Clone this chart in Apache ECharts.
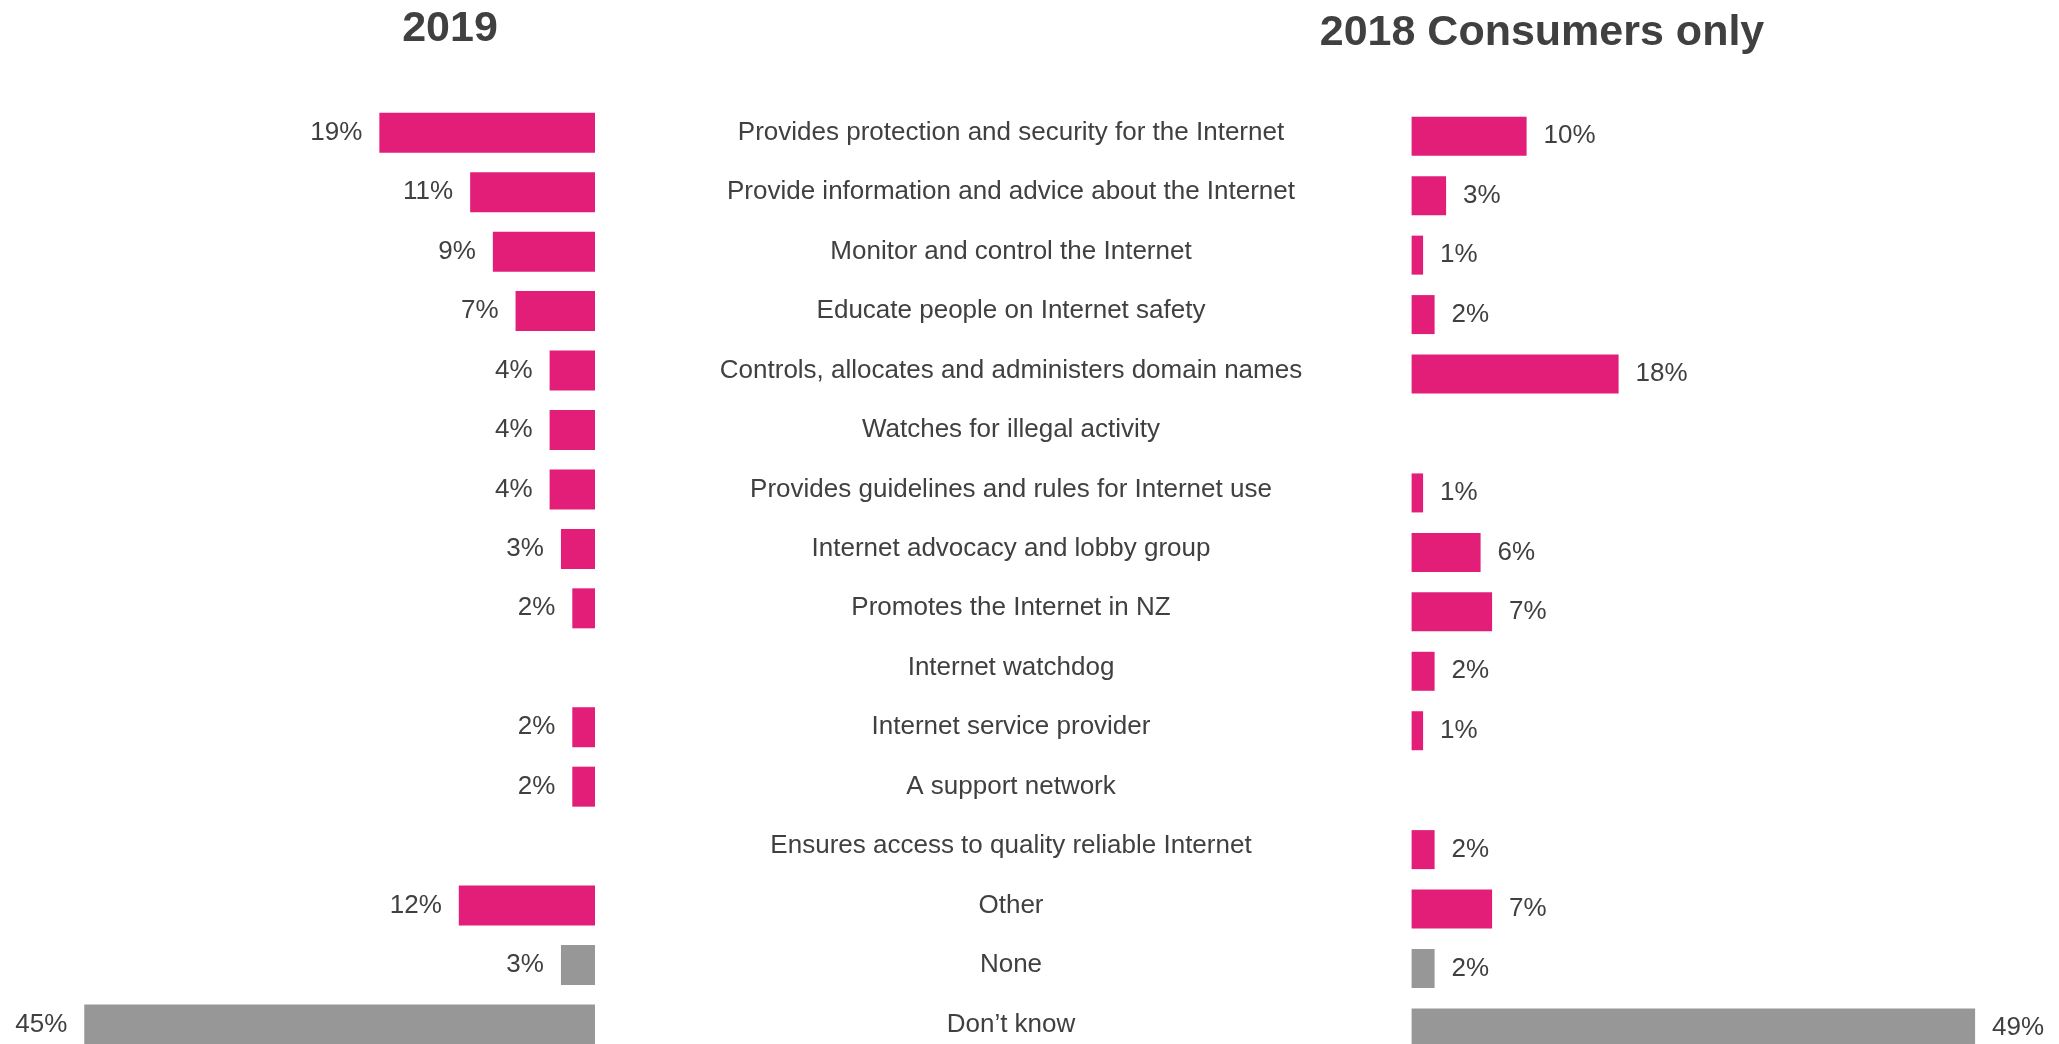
<!DOCTYPE html>
<html>
<head>
<meta charset="utf-8">
<title>Perceived role – 2019 vs 2018 consumers</title>
<script src="https://cdn.jsdelivr.net/npm/echarts@6/dist/echarts.min.js"></script>
<style>
  html, body { margin: 0; padding: 0; background: #ffffff; }
  #chart { width: 2059px; height: 1044px; }
</style>
</head>
<body>
<div id="chart"></div>
<script>
// Answers, listed top to bottom
const categories = [
  'Provides protection and security for the Internet',
  'Provide information and advice about the Internet',
  'Monitor and control the Internet',
  'Educate people on Internet safety',
  'Controls, allocates and administers domain names',
  'Watches for illegal activity',
  'Provides guidelines and rules for Internet use',
  'Internet advocacy and lobby group',
  'Promotes the Internet in NZ',
  'Internet watchdog',
  'Internet service provider',
  'A support network',
  'Ensures access to quality reliable Internet',
  'Other',
  'None',
  'Don’t know'
];

// Percentages (null = not mentioned)
const values2019 = [19, 11, 9, 7, 4, 4, 4, 3, 2, null, 2, 2, null, 12, 3, 45];
const values2018 = [10, 3, 1, 2, 18, null, 1, 6, 7, 2, 1, null, 2, 7, 2, 49];

// Non-substantive answers drawn in grey
const neutralAnswers = ['None', 'Don’t know'];

const titles = ['2019', '2018 Consumers only'];

const PINK = '#E31E79';
const GREY = '#979797';
const TEXT = '#404040';
const FONT = '"Liberation Sans", Arial, sans-serif';

function barColor(p) {
  return neutralAnswers.indexOf(categories[p.dataIndex]) >= 0 ? GREY : PINK;
}

function pct(p) {
  return p.value == null ? '' : p.value + '%';
}

const chart = echarts.init(document.getElementById('chart'), null, { renderer: 'canvas' });

const rowH = 59.45;
const gridH = rowH * categories.length;

chart.setOption({
  animation: false,
  backgroundColor: '#ffffff',
  textStyle: { fontFamily: FONT, color: TEXT },
  title: [
    {
      text: titles[0], left: 445, top: 3, textAlign: 'center',
      textStyle: { fontFamily: FONT, fontSize: 43, fontWeight: 'bold', color: TEXT }
    },
    {
      text: titles[1], left: 1537, top: 7, textAlign: 'center',
      textStyle: { fontFamily: FONT, fontSize: 43, fontWeight: 'bold', color: TEXT }
    }
  ],
  grid: [
    { left: 27.5, width: 567.5, top: 103, height: gridH, containLabel: false, outerBoundsMode: 'none' },
    { left: 1411.6, width: 575, top: 106.5, height: gridH, containLabel: false, outerBoundsMode: 'none' }
  ],
  xAxis: [
    { type: 'value', gridIndex: 0, min: 0, max: 50, inverse: true, show: false },
    { type: 'value', gridIndex: 1, min: 0, max: 50, show: false }
  ],
  yAxis: [
    {
      type: 'category', gridIndex: 0, data: categories, inverse: true, position: 'right',
      axisLine: { show: false }, axisTick: { show: false }, splitLine: { show: false },
      axisLabel: {
        margin: 416, align: 'center', padding: [8, 0, 0, 0],
        fontFamily: FONT, fontSize: 26, color: TEXT
      }
    },
    {
      type: 'category', gridIndex: 1, data: categories, inverse: true,
      axisLine: { show: false }, axisTick: { show: false }, splitLine: { show: false },
      axisLabel: { show: false }
    }
  ],
  series: [
    {
      name: titles[0], type: 'bar', xAxisIndex: 0, yAxisIndex: 0,
      data: values2019, barWidth: 40,
      itemStyle: { color: barColor },
      label: {
        show: true, position: 'left', distance: 17, padding: [5, 0, 0, 0],
        formatter: pct, fontFamily: FONT, fontSize: 26, color: TEXT
      }
    },
    {
      name: titles[1], type: 'bar', xAxisIndex: 1, yAxisIndex: 1,
      data: values2018, barWidth: 39,
      itemStyle: { color: barColor },
      label: {
        show: true, position: 'right', distance: 17, padding: [5, 0, 0, 0],
        formatter: pct, fontFamily: FONT, fontSize: 26, color: TEXT
      }
    }
  ]
});
</script>
</body>
</html>
